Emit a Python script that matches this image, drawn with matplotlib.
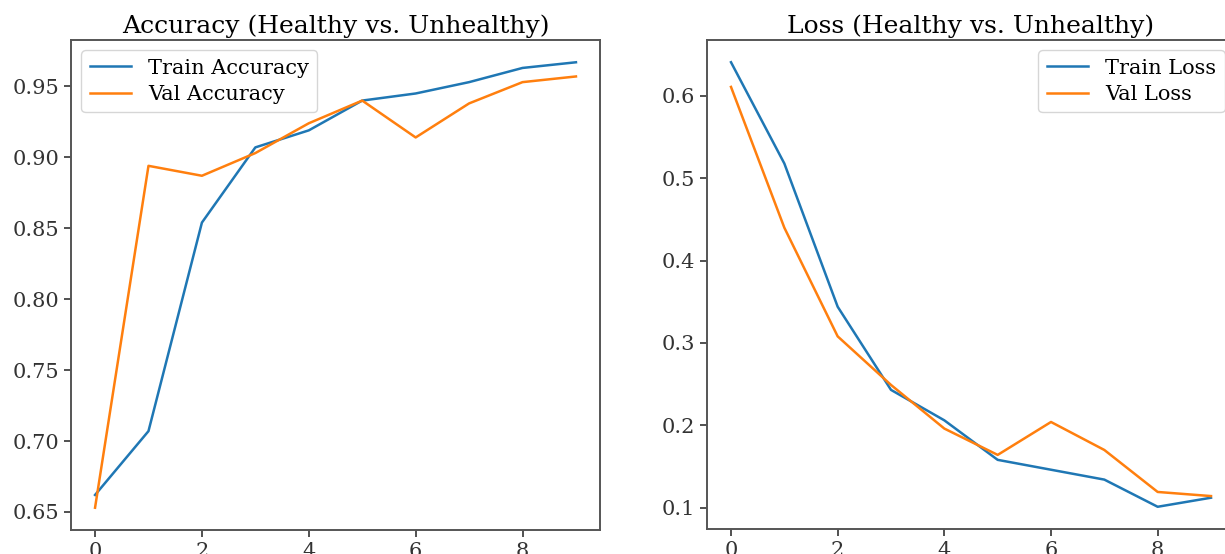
import matplotlib
matplotlib.use("Agg")
import matplotlib.pyplot as plt

epochs = list(range(10))
train_acc = [0.662, 0.707, 0.854, 0.907, 0.919, 0.940, 0.945, 0.953, 0.963, 0.967]
val_acc = [0.653, 0.894, 0.887, 0.903, 0.924, 0.940, 0.914, 0.938, 0.953, 0.957]
train_loss = [0.641, 0.518, 0.344, 0.243, 0.206, 0.158, 0.146, 0.134, 0.101, 0.112]
val_loss = [0.611, 0.440, 0.308, 0.249, 0.196, 0.164, 0.204, 0.170, 0.119, 0.114]

plt.rcParams["font.family"] = ["DejaVu Serif"]
plt.rcParams["font.size"] = 15

W, H = 1225, 554
fig = plt.figure(figsize=(W / 100, H / 100), dpi=100)
ax1 = fig.add_axes([71 / W, 24 / H, 529 / W, 490 / H])
ax2 = fig.add_axes([707 / W, 25 / H, 528 / W, 489 / H])

ax1.plot(epochs, train_acc, label="Train Accuracy", lw=1.8)
ax1.plot(epochs, val_acc, label="Val Accuracy", lw=1.8)
ax1.set_title("Accuracy (Healthy vs. Unhealthy)", fontsize=18, pad=5)
ax1.legend(loc="upper left", fontsize=15, labelspacing=0.35)

ax2.plot(epochs, train_loss, label="Train Loss", lw=1.8)
ax2.plot(epochs, val_loss, label="Val Loss", lw=1.8)
ax2.set_title("Loss (Healthy vs. Unhealthy)", fontsize=18, pad=5)
ax2.legend(loc="upper right", fontsize=15, labelspacing=0.35)

for ax in (ax1, ax2):
    ax.set_xticks([0, 2, 4, 6, 8])
    for s in ax.spines.values():
        s.set_color("#555555")
        s.set_linewidth(1.4)
    ax.tick_params(colors="#333333", length=5, width=1.2, labelsize=15)

fig.savefig("out.png", dpi=100)
